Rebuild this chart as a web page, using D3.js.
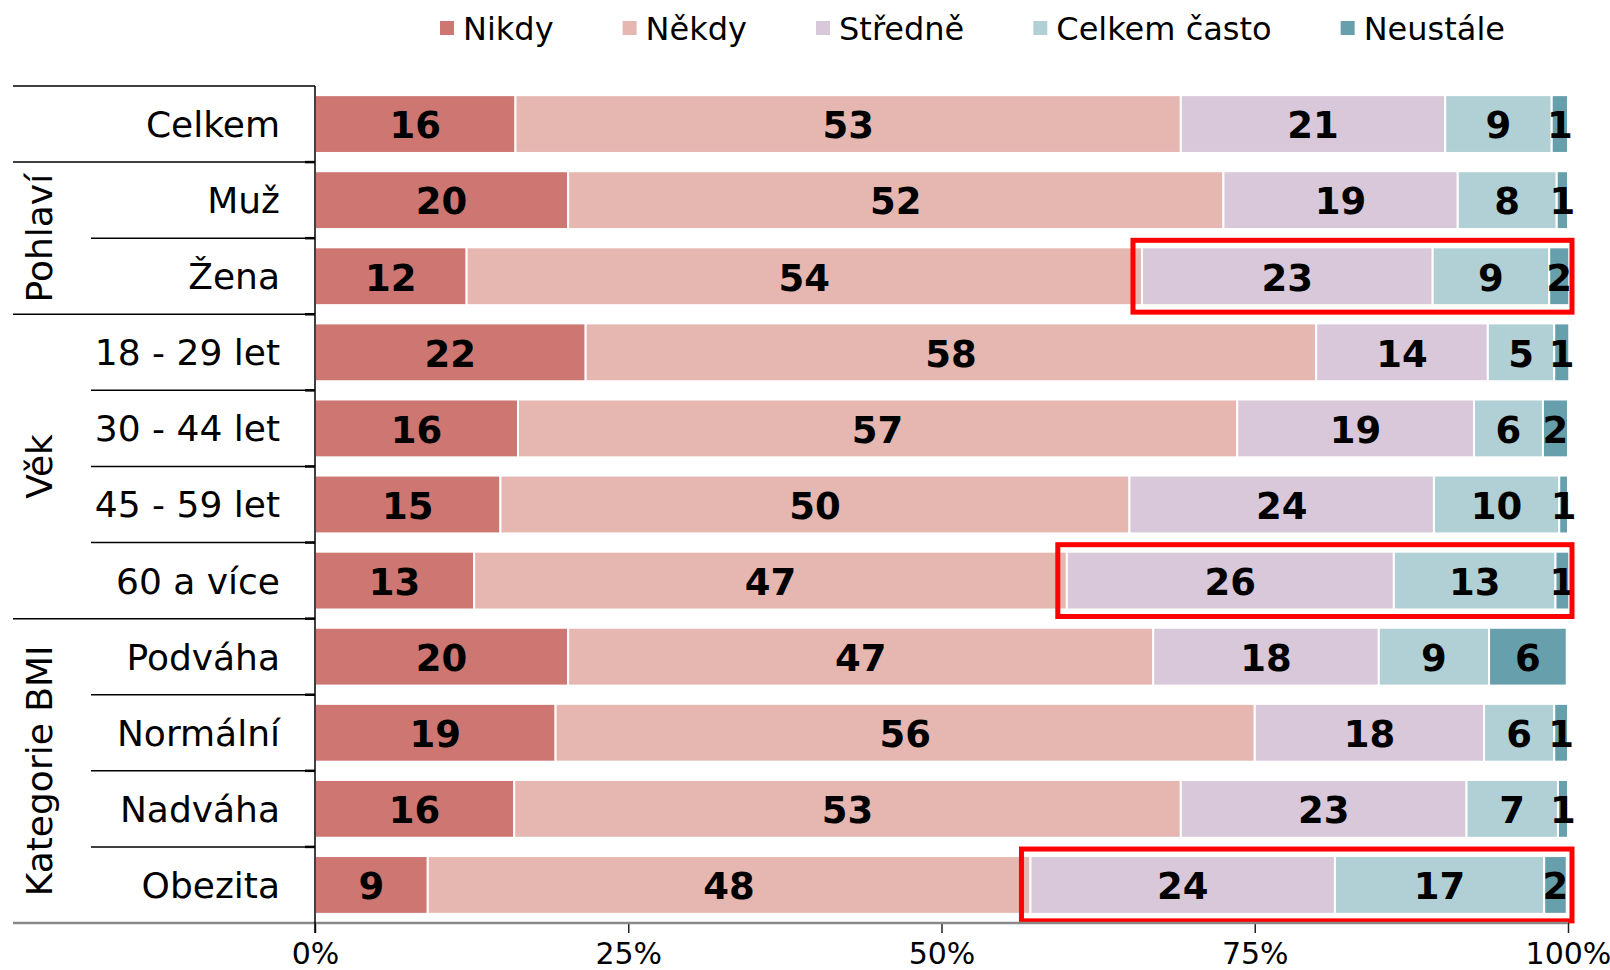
<!DOCTYPE html>
<html>
<head>
<meta charset="utf-8">
<script src="https://cdn.jsdelivr.net/npm/d3@7"></script>
<style>
  body { margin: 0; background: #fff; }
  svg { display: block; font-family: "DejaVu Sans", Verdana, sans-serif; }
</style>
</head>
<body>
<script>
// categories (rows, top to bottom) and the group each one belongs to
var rows = ["Celkem", "Muž", "Žena", "18 - 29 let", "30 - 44 let", "45 - 59 let", "60 a více",
            "Podváha", "Normální", "Nadváha", "Obezita"];
var groups = [
  { name: "", from: 0, to: 0 },
  { name: "Pohlaví", from: 1, to: 2 },
  { name: "Věk", from: 3, to: 6 },
  { name: "Kategorie BMI", from: 7, to: 10 }
];

// series names and colours
var series = ["Nikdy", "Někdy", "Středně", "Celkem často", "Neustále"];
var colors = ["#cd7672", "#e6b7b1", "#d9c7da", "#b1d0d6", "#689fad"];

// percentages per series (same order as rows)
var nikdy    = [16.0, 20.2, 12.1, 21.6, 16.2, 14.8, 12.7, 20.2, 19.2, 15.9, 9.0];
var nekdy    = [53.1, 52.3, 53.9, 58.3, 57.4, 50.2, 47.3, 46.7, 55.8, 53.2, 48.1];
var stredne  = [21.1, 18.7, 23.2, 13.7, 18.9, 24.3, 26.1, 18.0, 18.3, 22.8, 24.3];
var casto    = [8.5, 7.9, 9.3, 5.3, 5.5, 10.0, 12.9, 8.8, 5.6, 7.3, 16.7];
var neustale = [1.3, 0.9, 1.6, 1.2, 2.0, 0.7, 1.1, 6.2, 1.1, 0.8, 1.8];
var values = [nikdy, nekdy, stredne, casto, neustale];

// x ticks
var ticks = [0, 25, 50, 75, 100];

// rows that get a red box around the last three segments
var highlighted = ["Žena", "60 a více", "Obezita"];

var W = 1610, H = 970;
var plotLeft = 315, plotRight = 1568, plotTop = 86, plotBottom = 923;

var svg = d3.select("body").append("svg").attr("width", W).attr("height", H);

var x = d3.scaleLinear().domain([0, 100]).range([plotLeft, plotRight]);
var y = d3.scaleBand().domain(rows).range([plotTop, plotBottom]).paddingInner(0.24).paddingOuter(0.12);
var rowStep = y.step();
function rowTop(i) { return plotTop + i * rowStep; }

// build stacked data
var table = rows.map(function (r, i) {
  var o = { row: r };
  series.forEach(function (s, j) { o[s] = values[j][i]; });
  return o;
});
var stacked = d3.stack().keys(series)(table);

// bars
var layer = svg.selectAll("g.layer")
  .data(stacked)
  .enter()
  .append("g")
  .attr("class", "layer")
  .attr("fill", function (d, i) { return colors[i]; });

layer.selectAll("rect")
  .data(function (d) { return d; })
  .enter()
  .append("rect")
  .attr("x", function (d) { return x(d[0]); })
  .attr("y", function (d) { return y(d.data.row); })
  .attr("width", function (d) { return x(d[1]) - x(d[0]); })
  .attr("height", y.bandwidth())
  .attr("stroke", "#fff")
  .attr("stroke-width", 2);

// value labels
layer.selectAll("text")
  .data(function (d) { return d; })
  .enter()
  .append("text")
  .attr("x", function (d) { return (x(d[0]) + x(d[1])) / 2; })
  .attr("y", function (d) { return y(d.data.row) + y.bandwidth() / 2 + 1; })
  .attr("dy", "0.36em")
  .attr("text-anchor", "middle")
  .attr("font-weight", "bold")
  .attr("font-size", 37)
  .attr("fill", "#000")
  .text(function (d) { return Math.round(d[1] - d[0]); });

// red highlight boxes
highlighted.forEach(function (r) {
  var i = rows.indexOf(r);
  var start = nikdy[i] + nekdy[i];
  svg.append("rect")
    .attr("x", x(start) - 9)
    .attr("y", y(r) - 7)
    .attr("width", x(100) - x(start) + 13)
    .attr("height", y.bandwidth() + 14)
    .attr("fill", "none")
    .attr("stroke", "#ff0000")
    .attr("stroke-width", 5);
});

// left table lines
var lines = svg.append("g").attr("stroke", "#000").attr("stroke-width", 1.5);
// top line
lines.append("line").attr("x1", 13).attr("x2", plotLeft).attr("y1", plotTop).attr("y2", plotTop);
rows.forEach(function (r, i) {
  if (i == 0) return;
  var isGroupStart = groups.some(function (g) { return g.from == i; });
  lines.append("line")
    .attr("x1", isGroupStart ? 13 : 91)
    .attr("x2", plotLeft)
    .attr("y1", rowTop(i))
    .attr("y2", rowTop(i));
  // small outward tick
  lines.append("line").attr("x1", plotLeft - 10).attr("x2", plotLeft)
    .attr("y1", rowTop(i)).attr("y2", rowTop(i)).attr("stroke-width", 2.5);
});

// row labels
svg.append("g").selectAll("text")
  .data(rows)
  .enter()
  .append("text")
  .attr("x", 280)
  .attr("y", function (d) { return y(d) + y.bandwidth() / 2; })
  .attr("dy", "0.36em")
  .attr("text-anchor", "end")
  .attr("font-size", 36)
  .text(function (d) { return d; });

// group labels (rotated)
groups.forEach(function (g) {
  if (!g.name) return;
  var cy = (rowTop(g.from) + rowTop(g.to + 1)) / 2;
  svg.append("text")
    .attr("transform", "translate(39," + cy + ") rotate(-90)")
    .attr("dy", "0.36em")
    .attr("text-anchor", "middle")
    .attr("font-size", 36)
    .text(g.name);
});

// x axis
var xAxis = d3.axisBottom(x).tickValues(ticks).tickSize(10).tickFormat(function (d) { return d + "%"; });
var gx = svg.append("g").attr("transform", "translate(0," + plotBottom + ")").call(xAxis);
gx.select(".domain").remove();
gx.selectAll(".tick line").attr("stroke", "#222").attr("stroke-width", 1.5);
gx.selectAll(".tick text").attr("font-size", 30).attr("fill", "#000").attr("y", 20)
  .attr("font-family", "DejaVu Sans, Verdana, sans-serif");

// bottom baseline (gray, full width)
svg.append("line").attr("x1", 13).attr("x2", plotRight).attr("y1", plotBottom).attr("y2", plotBottom)
  .attr("stroke", "#888").attr("stroke-width", 2.5);

// vertical axis line
svg.append("line").attr("x1", plotLeft).attr("x2", plotLeft).attr("y1", plotTop).attr("y2", plotBottom + 10)
  .attr("stroke", "#000").attr("stroke-width", 1.5);

// legend
var legend = svg.append("g").attr("transform", "translate(440,28)");
var lx = 0;
series.forEach(function (s, i) {
  var item = legend.append("g").attr("transform", "translate(" + lx + ",0)");
  item.append("rect").attr("x", 0).attr("y", -7).attr("width", 14).attr("height", 14).attr("fill", colors[i]);
  var t = item.append("text").attr("x", 23).attr("dy", "0.36em").attr("font-size", 32).text(s);
  lx += 23 + t.node().getComputedTextLength() + 69;
});
</script>
</body>
</html>
